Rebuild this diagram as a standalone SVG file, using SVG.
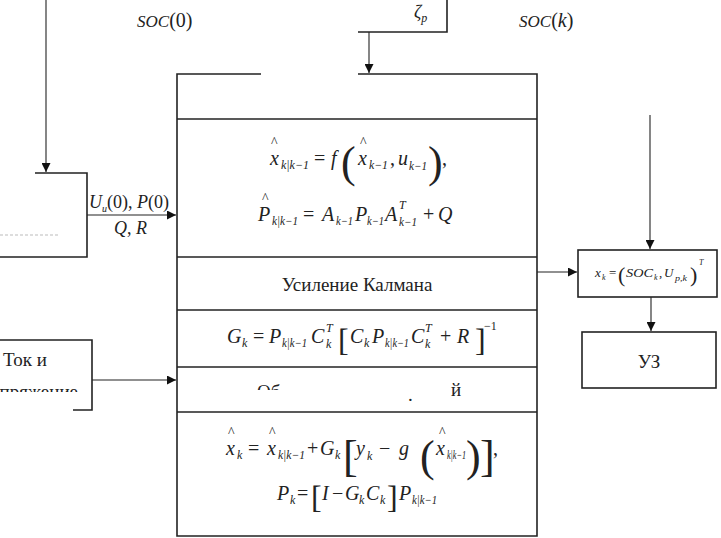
<svg xmlns="http://www.w3.org/2000/svg" width="721" height="538" viewBox="0 0 721 538">
<style>
.ln{stroke:#222;stroke-width:1.6;fill:none}
.ar{stroke:#222;stroke-width:1.1;fill:none}
text{font-family:Liberation Serif,Times New Roman,Tinos,serif;fill:#222}
.i{font-style:italic;font-size:20px}
.u{font-size:20px}
.s{font-style:italic;font-size:12px}
.h{font-size:14px}
.big{font-size:44px}
.br{font-size:32px}
.t{font-size:19px}
.f{font-size:13px;font-style:italic}
.fs{font-size:8px;font-style:italic}
</style>
<defs>
<marker id="ah" viewBox="0 0 10 10" refX="10" refY="5" markerWidth="9" markerHeight="9" markerUnits="userSpaceOnUse" orient="auto">
<path d="M0,0 L10,5 L0,10 z" fill="#111"/>
</marker>
<clipPath id="c1"><rect x="0" y="380" width="90" height="12"/></clipPath>
<clipPath id="c2"><rect x="250" y="380" width="40" height="10"/></clipPath>
</defs>

<g id="connectors">
<line class="ar" x1="46" y1="0" x2="46" y2="172" marker-end="url(#ah)"/>
<line class="ar" x1="369" y1="32" x2="369" y2="73" marker-end="url(#ah)"/>
<line class="ar" x1="87" y1="215" x2="176" y2="215" marker-end="url(#ah)"/>
<line class="ar" x1="92" y1="380" x2="176" y2="380" marker-end="url(#ah)"/>
<line class="ar" x1="537" y1="272" x2="577" y2="272" marker-end="url(#ah)"/>
<line class="ar" x1="650" y1="115" x2="650" y2="249" marker-end="url(#ah)"/>
<line class="ar" x1="651" y1="297" x2="651" y2="331" marker-end="url(#ah)"/>
<text class="i" x="89" y="208" style="font-size:18px">U<tspan class="s" style="font-size:10px" dy="4">u</tspan><tspan style="font-style:normal" dy="-4">(0), </tspan>P<tspan style="font-style:normal">(0)</tspan></text>
<text class="i" x="114" y="234" style="font-size:18px">Q<tspan style="font-style:normal">,</tspan> R</text>
</g>

<g id="soc0">
<text x="137" y="27"><tspan class="i" style="font-size:17px">SOC</tspan><tspan class="u">(0)</tspan></text>
</g>
<g id="sock">
<text x="519" y="27"><tspan class="i" style="font-size:17px">SOC</tspan><tspan class="u">(</tspan><tspan class="i">k</tspan><tspan class="u">)</tspan></text>
</g>

<g id="param-box">
<polyline class="ln" points="447,0 447,32 358,32"/>
<text class="i" x="414" y="18" style="font-size:18px">ζ<tspan class="s" dy="4">p</tspan></text>
</g>

<g id="init-box">
<polyline class="ln" points="35,173 87,173 87,257 0,257"/>
<line x1="0" y1="235" x2="60" y2="235" stroke="#bbb" stroke-width="1" stroke-dasharray="3,2"/>
</g>

<g id="input-box">
<polyline class="ln" points="0,340 92,340 92,410 73,410"/>
<text class="t" x="3" y="366">Ток и</text>
<text class="t" x="78" y="398" text-anchor="end" clip-path="url(#c1)">напряжение</text>
</g>

<g id="kalman">
<polyline class="ln" points="261,74 177,74 177,536 537,536 537,74 358,74"/>
<line class="ln" x1="177" y1="119" x2="537" y2="119"/>
<line class="ln" x1="177" y1="257" x2="537" y2="257"/>
<line class="ln" x1="177" y1="310" x2="537" y2="310"/>
<line class="ln" x1="177" y1="367" x2="537" y2="367"/>
<line class="ln" x1="177" y1="412" x2="537" y2="412"/>

<text class="h" x="271" y="147">^</text>
<text class="i" x="270" y="165">x</text>
<text class="s" x="281" y="169" textLength="28" lengthAdjust="spacingAndGlyphs">k|k−1</text>
<text class="u" x="314" y="165">=</text>
<text class="i" x="331" y="165">f</text>
<text class="big" x="341" y="177">(</text>
<text class="h" x="360" y="147">^</text>
<text class="i" x="358" y="165">x</text>
<text class="s" x="369" y="169" textLength="19" lengthAdjust="spacingAndGlyphs">k−1</text>
<text class="u" x="390" y="165">,</text>
<text class="i" x="398" y="165">u</text>
<text class="s" x="409" y="170" textLength="18" lengthAdjust="spacingAndGlyphs">k−1</text>
<text class="big" x="428" y="177">)</text>
<text class="u" x="442" y="165">,</text>

<text class="h" x="262" y="203">^</text>
<text class="i" x="258" y="221">P</text>
<text class="s" x="272" y="225" textLength="26" lengthAdjust="spacingAndGlyphs">k|k−1</text>
<text class="u" x="303" y="221">=</text>
<text class="i" x="322" y="221">A</text>
<text class="s" x="336" y="225" textLength="17" lengthAdjust="spacingAndGlyphs">k−1</text>
<text class="i" x="355" y="221">P</text>
<text class="s" x="367" y="225" textLength="17" lengthAdjust="spacingAndGlyphs">k−1</text>
<text class="i" x="385" y="221">A</text>
<text class="s" x="399" y="209">T</text>
<text class="s" x="399" y="226" textLength="18" lengthAdjust="spacingAndGlyphs">k−1</text>
<text class="u" x="423" y="221">+</text>
<text class="i" x="438" y="221">Q</text>

<text class="t" x="357" y="291" text-anchor="middle">Усиление Калмана</text>

<text class="i" x="227" y="343">G</text>
<text class="s" x="242" y="347">k</text>
<text class="u" x="253" y="343">=</text>
<text class="i" x="269" y="343">P</text>
<text class="s" x="282" y="347" textLength="25" lengthAdjust="spacingAndGlyphs">k|k−1</text>
<text class="i" x="311" y="343">C</text>
<text class="s" x="326" y="332">T</text>
<text class="s" x="326" y="348">k</text>
<text class="br" x="338" y="351">[</text>
<text class="i" x="350" y="343">C</text>
<text class="s" x="364" y="347">k</text>
<text class="i" x="372" y="343">P</text>
<text class="s" x="385" y="347" textLength="24" lengthAdjust="spacingAndGlyphs">k|k−1</text>
<text class="i" x="411" y="343">C</text>
<text class="s" x="425" y="332">T</text>
<text class="s" x="425" y="348">k</text>
<text class="u" x="440" y="343">+</text>
<text class="i" x="457" y="343">R</text>
<text class="br" x="475" y="351">]</text>
<text class="s" x="484" y="330" style="font-style:normal">−1</text>

<text class="t" x="257" y="398" clip-path="url(#c2)">Об</text>
<text class="t" x="408" y="401">.</text>
<text class="t" x="451" y="396">й</text>

<text class="h" x="228" y="437">^</text>
<text class="i" x="226" y="455">x</text>
<text class="s" x="237" y="459">k</text>
<text class="u" x="248" y="455">=</text>
<text class="h" x="269" y="437">^</text>
<text class="i" x="267" y="455">x</text>
<text class="s" x="278" y="459" textLength="27" lengthAdjust="spacingAndGlyphs">k|k−1</text>
<text class="u" x="307" y="455">+</text>
<text class="i" x="320" y="455">G</text>
<text class="s" x="335" y="459">k</text>
<text class="big" x="343" y="471">[</text>
<text class="i" x="356" y="455">y</text>
<text class="s" x="367" y="460">k</text>
<text class="u" x="379" y="455">−</text>
<text class="i" x="399" y="455">g</text>
<text class="big" x="420" y="471">(</text>
<text class="h" x="439" y="437">^</text>
<text class="i" x="436" y="455">x</text>
<text class="s" x="447" y="459" textLength="19" lengthAdjust="spacingAndGlyphs">k|k−1</text>
<text class="big" x="466" y="471">)</text>
<text class="big" x="480" y="471">]</text>
<text class="u" x="493" y="455">,</text>

<text class="i" x="277" y="500">P</text>
<text class="s" x="290" y="504">k</text>
<text class="u" x="297" y="500">=</text>
<text class="br" x="311" y="508">[</text>
<text class="i" x="322" y="500">I</text>
<text class="u" x="332" y="500">−</text>
<text class="i" x="345" y="500">G</text>
<text class="s" x="359" y="504">k</text>
<text class="i" x="366" y="500">C</text>
<text class="s" x="380" y="504">k</text>
<text class="br" x="387" y="508">]</text>
<text class="i" x="399" y="500">P</text>
<text class="s" x="412" y="504" textLength="25" lengthAdjust="spacingAndGlyphs">k|k−1</text>
</g>

<g id="state-box">
<rect class="ln" x="578" y="250" width="139" height="47"/>
<text class="f" x="595" y="277">x</text>
<text class="fs" x="602" y="280">k</text>
<text class="f" x="609" y="277" style="font-style:normal">=</text>
<text x="618" y="282" style="font-size:22px">(</text>
<text class="f" x="626" y="277" textLength="27" lengthAdjust="spacingAndGlyphs">SOC</text>
<text class="fs" x="654" y="280">k</text>
<text class="f" x="659" y="277" style="font-style:normal">,</text>
<text class="f" x="664" y="277">U</text>
<text class="fs" x="675" y="281" textLength="12" lengthAdjust="spacingAndGlyphs">p,k</text>
<text x="690" y="282" style="font-size:22px">)</text>
<text class="fs" x="699" y="265">T</text>
</g>

<g id="uz-box">
<rect class="ln" x="582" y="332" width="134" height="56"/>
<text class="t" x="649" y="368" text-anchor="middle">УЗ</text>
</g>
</svg>
